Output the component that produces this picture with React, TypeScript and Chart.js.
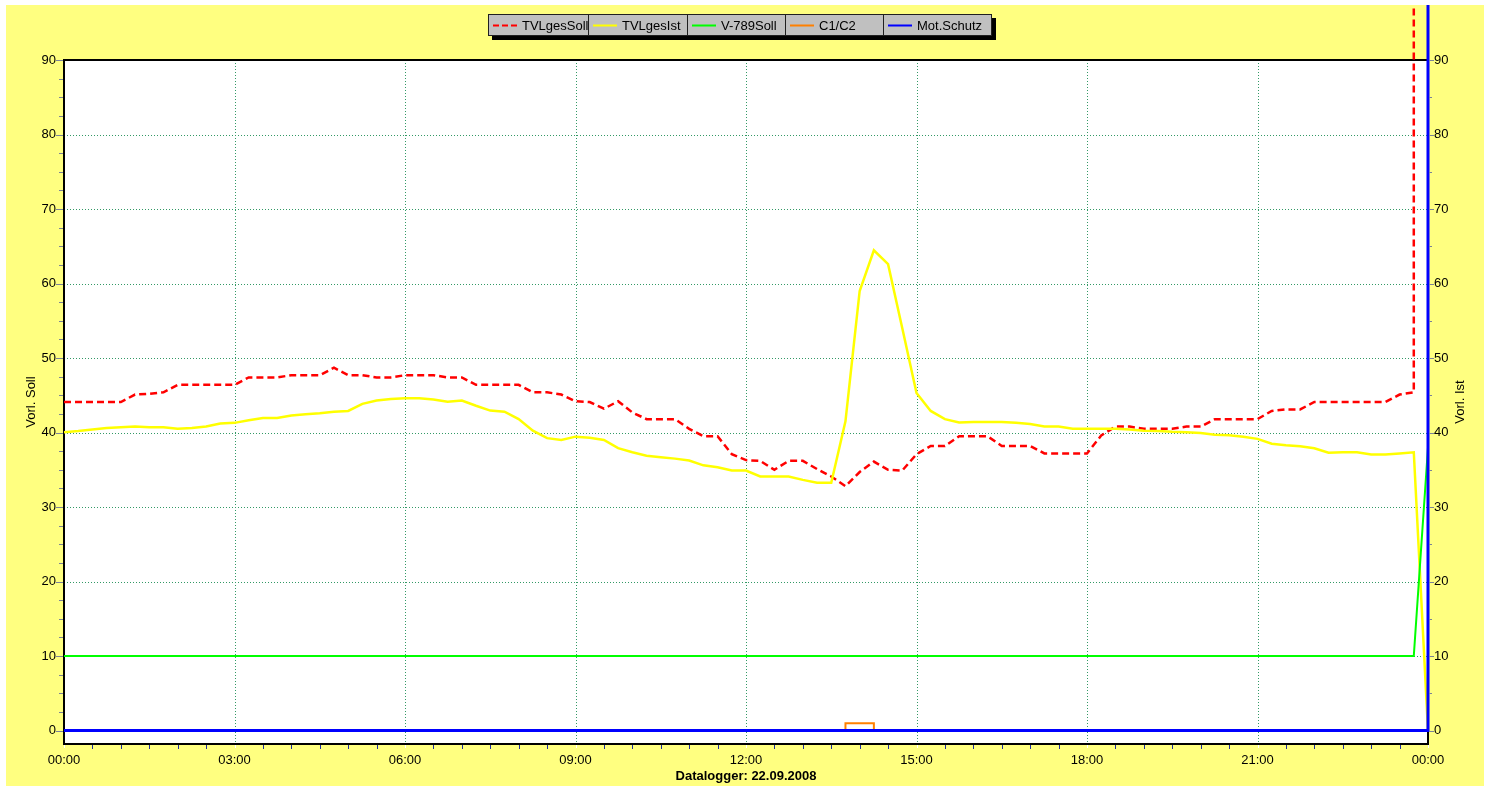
import React, { useEffect, useRef } from 'react';
import { Chart, registerables } from 'chart.js';

Chart.register(...registerables);

// ---- data ----
const times = [
  "00:00","00:15","00:30","00:45","01:00","01:15","01:30","01:45",
  "02:00","02:15","02:30","02:45","03:00","03:15","03:30","03:45",
  "04:00","04:15","04:30","04:45","05:00","05:15","05:30","05:45",
  "06:00","06:15","06:30","06:45","07:00","07:15","07:30","07:45",
  "08:00","08:15","08:30","08:45","09:00","09:15","09:30","09:45",
  "10:00","10:15","10:30","10:45","11:00","11:15","11:30","11:45",
  "12:00","12:15","12:30","12:45","13:00","13:15","13:30","13:45",
  "14:00","14:15","14:30","14:45","15:00","15:15","15:30","15:45",
  "16:00","16:15","16:30","16:45","17:00","17:15","17:30","17:45",
  "18:00","18:15","18:30","18:45","19:00","19:15","19:30","19:45",
  "20:00","20:15","20:30","20:45","21:00","21:15","21:30","21:45",
  "22:00","22:15","22:30","22:45","23:00","23:15","23:30","23:45",
  "24:00"
];

// TVLgesSoll: 00:00 .. 23:45 (then the logger writes an overflow value)
const tvlGesSoll = [
  44.1, 44.1, 44.1, 44.1, 44.1, 45.1, 45.2, 45.4,
  46.4, 46.4, 46.4, 46.4, 46.4, 47.4, 47.4, 47.4,
  47.7, 47.7, 47.7, 48.7, 47.7, 47.7, 47.4, 47.4,
  47.7, 47.7, 47.7, 47.4, 47.4, 46.4, 46.4, 46.4,
  46.4, 45.4, 45.4, 45.1, 44.2, 44.1, 43.2, 44.2,
  42.7, 41.8, 41.8, 41.8, 40.5, 39.5, 39.5, 37.1,
  36.3, 36.2, 35.0, 36.2, 36.2, 35.1, 34.1, 32.8,
  34.7, 36.1, 35.0, 34.9, 37.1, 38.2, 38.2, 39.5,
  39.5, 39.5, 38.2, 38.2, 38.2, 37.2, 37.2, 37.2,
  37.2, 39.6, 40.8, 40.8, 40.5, 40.5, 40.5, 40.8,
  40.8, 41.8, 41.8, 41.8, 41.8, 42.9, 43.1, 43.1,
  44.1, 44.1, 44.1, 44.1, 44.1, 44.1, 45.1, 45.4
];

const tvlGesIst = [
  40.05, 40.2, 40.4, 40.6, 40.7, 40.8, 40.7, 40.7,
  40.5, 40.6, 40.8, 41.2, 41.3, 41.65, 41.95, 41.95,
  42.3, 42.45, 42.6, 42.8, 42.9, 43.85, 44.3, 44.5,
  44.6, 44.6, 44.45, 44.15, 44.3, 43.6, 42.95, 42.8,
  41.8, 40.25, 39.25, 39.0, 39.45, 39.3, 39.0, 37.9,
  37.35, 36.9, 36.7, 36.5, 36.25, 35.6, 35.35, 34.9,
  34.9, 34.1, 34.1, 34.1, 33.65, 33.25, 33.25, 41.5,
  59.0, 64.45, 62.6, 54.0, 45.3, 42.9, 41.8, 41.35,
  41.4, 41.4, 41.4, 41.3, 41.15, 40.8, 40.8, 40.5,
  40.5, 40.5, 40.5, 40.4, 40.25, 40.2, 40.1, 40.05,
  39.95, 39.7, 39.65, 39.45, 39.15, 38.5, 38.3, 38.15,
  37.9, 37.3, 37.35, 37.35, 37.05, 37.05, 37.2, 37.35,
  0
];

const v789Soll = [
  10, 10, 10, 10, 10, 10, 10, 10, 10, 10, 10, 10, 10, 10, 10, 10,
  10, 10, 10, 10, 10, 10, 10, 10, 10, 10, 10, 10, 10, 10, 10, 10,
  10, 10, 10, 10, 10, 10, 10, 10, 10, 10, 10, 10, 10, 10, 10, 10,
  10, 10, 10, 10, 10, 10, 10, 10, 10, 10, 10, 10, 10, 10, 10, 10,
  10, 10, 10, 10, 10, 10, 10, 10, 10, 10, 10, 10, 10, 10, 10, 10,
  10, 10, 10, 10, 10, 10, 10, 10, 10, 10, 10, 10, 10, 10, 10, 10,
  38
];

const c1c2 = [
  0, 0, 0, 0, 0, 0, 0, 0, 0, 0, 0, 0, 0, 0, 0, 0,
  0, 0, 0, 0, 0, 0, 0, 0, 0, 0, 0, 0, 0, 0, 0, 0,
  0, 0, 0, 0, 0, 0, 0, 0, 0, 0, 0, 0, 0, 0, 0, 0,
  0, 0, 0, 0, 0, 0, 0, 1, 1, 0, 0, 0, 0, 0, 0, 0,
  0, 0, 0, 0, 0, 0, 0, 0, 0, 0, 0, 0, 0, 0, 0, 0,
  0, 0, 0, 0, 0, 0, 0, 0, 0, 0, 0, 0, 0, 0, 0, 0,
  0
];

const motSchutz = [
  0, 0, 0, 0, 0, 0, 0, 0, 0, 0, 0, 0, 0, 0, 0, 0,
  0, 0, 0, 0, 0, 0, 0, 0, 0, 0, 0, 0, 0, 0, 0, 0,
  0, 0, 0, 0, 0, 0, 0, 0, 0, 0, 0, 0, 0, 0, 0, 0,
  0, 0, 0, 0, 0, 0, 0, 0, 0, 0, 0, 0, 0, 0, 0, 0,
  0, 0, 0, 0, 0, 0, 0, 0, 0, 0, 0, 0, 0, 0, 0, 0,
  0, 0, 0, 0, 0, 0, 0, 0, 0, 0, 0, 0, 0, 0, 0, 0,
  0
];

// value written by the logger at the end of the record (off the scale)
const overflowValue = 999;

const seriesLabels = ["TVLgesSoll", "TVLgesIst", "V-789Soll", "C1/C2", "Mot.Schutz"];
const yTicks = [0, 10, 20, 30, 40, 50, 60, 70, 80, 90];
const xTickHours = [0, 3, 6, 9, 12, 15, 18, 21, 24];
const xTickLabels = ["00:00", "03:00", "06:00", "09:00", "12:00", "15:00", "18:00", "21:00", "00:00"];
const leftTitle = "Vorl. Soll";
const rightTitle = "Vorl. Ist";
const bottomTitle = "Datalogger: 22.09.2008";

// ---- helpers ----
const toHours = (t: string) => {
  const [h, m] = t.split(':').map(Number);
  return h + m / 60;
};

const FONT = '"Liberation Sans", Arial, sans-serif';
const Y_MIN = -1.8;
const Y_MAX = 90;
const CANVAS_W = 1478;
const CANVAS_H = 781;

const colors = ['#FF0000', '#FFFF00', '#00FF00', '#FF8000', '#0000FF'];
const dashes: number[][] = [[7, 4], [], [], [], []];

const framePlugin = {
  id: 'frame',
  beforeDraw(chart: any) {
    const { ctx, chartArea: a, width, height } = chart;
    ctx.save();
    ctx.fillStyle = '#FFFF80';
    ctx.fillRect(0, 0, width, height);
    ctx.fillStyle = '#FFFFFF';
    ctx.fillRect(a.left, a.top, a.right - a.left, a.bottom - a.top);
    ctx.restore();
  },
  beforeDatasetsDraw(chart: any) {
    const { ctx, chartArea: a } = chart;
    const xs = chart.scales.x;
    const ys = chart.scales.y;
    ctx.save();
    ctx.strokeStyle = '#339966';
    ctx.lineWidth = 1;
    ctx.setLineDash([1, 2]);
    yTicks.forEach((v) => {
      if (v <= Y_MIN || v >= Y_MAX || v === 0) return;
      const py = Math.round(ys.getPixelForValue(v)) + 0.5;
      ctx.beginPath();
      ctx.moveTo(a.left, py);
      ctx.lineTo(a.right, py);
      ctx.stroke();
    });
    xTickHours.forEach((h) => {
      if (h <= 0 || h >= 24) return;
      const px = Math.round(xs.getPixelForValue(h)) + 0.5;
      ctx.beginPath();
      ctx.moveTo(px, a.top);
      ctx.lineTo(px, a.bottom);
      ctx.stroke();
    });
    ctx.setLineDash([]);
    ctx.strokeStyle = '#000000';
    ctx.lineWidth = 2;
    ctx.strokeRect(a.left, a.top, a.right - a.left, a.bottom - a.top);
    ctx.restore();
  },
  afterDraw(chart: any) {
    const { ctx, chartArea: a } = chart;
    const xs = chart.scales.x;
    const ys = chart.scales.y;
    ctx.save();
    ctx.lineWidth = 1;
    // left ticks
    ctx.strokeStyle = '#7a8296';
    for (let v = 0; v <= 90; v += 2.5) {
      const py = Math.round(ys.getPixelForValue(v)) + 0.5;
      const len = v % 10 === 0 ? 7 : 4;
      ctx.beginPath();
      ctx.moveTo(a.left - 1 - len, py);
      ctx.lineTo(a.left - 1, py);
      ctx.stroke();
    }
    // right ticks
    for (let v = 0; v <= 90; v += 5) {
      const py = Math.round(ys.getPixelForValue(v)) + 0.5;
      const len = v % 10 === 0 ? 5 : 3;
      ctx.beginPath();
      ctx.moveTo(a.right + 1, py);
      ctx.lineTo(a.right + 1 + len, py);
      ctx.stroke();
    }
    // bottom ticks
    for (let h = 0; h <= 24; h += 0.5) {
      const px = Math.round(xs.getPixelForValue(h)) + 0.5;
      const major = h % 3 === 0;
      ctx.strokeStyle = major ? '#FFFFFF' : '#1f2f9f';
      ctx.beginPath();
      ctx.moveTo(px, a.bottom + 1);
      ctx.lineTo(px, a.bottom + (major ? 4 : 5));
      ctx.stroke();
    }
    // titles
    const cy = (a.top + a.bottom) / 2;
    ctx.fillStyle = '#000000';
    ctx.font = '13px ' + FONT;
    ctx.textAlign = 'center';
    ctx.textBaseline = 'middle';
    ctx.save();
    ctx.translate(25, cy);
    ctx.rotate(-Math.PI / 2);
    ctx.fillText(leftTitle, 0, 0);
    ctx.restore();
    ctx.save();
    ctx.translate(a.right + 32, cy);
    ctx.rotate(-Math.PI / 2);
    ctx.fillText(rightTitle, 0, 0);
    ctx.restore();
    ctx.font = 'bold 13px ' + FONT;
    ctx.fillText(bottomTitle, (a.left + a.right) / 2, a.bottom + 32);

    // legend
    const cells = [482, 582, 681, 779, 877, 986];
    const top = 9;
    const bottom = 31;
    const midY = 20;
    ctx.fillStyle = '#000000';
    ctx.fillRect(cells[0] + 4, top + 4, cells[5] - cells[0], bottom - top);
    ctx.fillStyle = '#C0C0C0';
    ctx.fillRect(cells[0], top, cells[5] - cells[0], bottom - top);
    ctx.strokeStyle = '#202020';
    ctx.lineWidth = 1;
    ctx.strokeRect(cells[0] + 0.5, top + 0.5, cells[5] - cells[0] - 1, bottom - top - 1);
    for (let i = 1; i < 5; i++) {
      ctx.beginPath();
      ctx.moveTo(cells[i] + 0.5, top);
      ctx.lineTo(cells[i] + 0.5, bottom);
      ctx.stroke();
    }
    ctx.font = '13px ' + FONT;
    ctx.textAlign = 'left';
    ctx.textBaseline = 'middle';
    seriesLabels.forEach((label, i) => {
      const x0 = cells[i];
      ctx.save();
      ctx.strokeStyle = colors[i];
      ctx.lineWidth = 2;
      ctx.setLineDash(i === 0 ? [6, 3] : []);
      ctx.beginPath();
      ctx.moveTo(x0 + 5, midY + 0.5);
      ctx.lineTo(x0 + 29, midY + 0.5);
      ctx.stroke();
      ctx.restore();
      ctx.fillStyle = '#000000';
      ctx.fillText(label, x0 + 34, midY + 1);
    });
    ctx.restore();
  },
};

export default function App() {
  const canvasRef = useRef<HTMLCanvasElement | null>(null);

  useEffect(() => {
    if (!canvasRef.current) return;
    const pts = (vals: number[]) => vals.map((v, i) => ({ x: toHours(times[i]), y: v }));

    const soll = pts(tvlGesSoll);
    soll.push({ x: toHours(times[tvlGesSoll.length - 1]), y: overflowValue });
    const schutz = pts(motSchutz);
    schutz.push({ x: toHours(times[times.length - 1]), y: overflowValue });

    const seriesData = [soll, pts(tvlGesIst), pts(v789Soll), pts(c1c2), schutz];
    const widths = [2.5, 2.5, 2, 2, 3];
    const orders = [4, 3, 2, 1, 0];

    const datasets = seriesLabels.map((label, i) => ({
      label,
      data: seriesData[i],
      borderColor: colors[i],
      backgroundColor: colors[i],
      borderWidth: widths[i],
      borderDash: dashes[i],
      pointRadius: 0,
      tension: 0,
      fill: false,
      clip: false as any,
      order: orders[i],
      stepped: i === 3 ? 'before' : false,
      yAxisID: 'y',
    }));

    const tickFont = { family: FONT, size: 13 };

    const chart = new Chart(canvasRef.current, {
      type: 'line',
      data: { datasets: datasets as any },
      options: {
        animation: false,
        responsive: false,
        maintainAspectRatio: false,
        layout: { padding: { top: 55, left: 0, right: 0, bottom: 0 } },
        plugins: { legend: { display: false }, tooltip: { enabled: false } },
        scales: {
          x: {
            type: 'linear',
            position: 'bottom',
            min: 0,
            max: 24,
            afterFit: (s: any) => { s.height = CANVAS_H - 739; },
            afterBuildTicks: (s: any) => { s.ticks = xTickHours.map((v) => ({ value: v })); },
            ticks: {
              autoSkip: false,
              maxRotation: 0,
              padding: 9,
              color: '#000000',
              font: tickFont,
              callback: (v: any) => xTickLabels[xTickHours.indexOf(Number(v))],
            },
            grid: { display: false, drawTicks: false },
            border: { display: false },
          },
          y: {
            type: 'linear',
            position: 'left',
            min: Y_MIN,
            max: Y_MAX,
            afterFit: (s: any) => { s.width = 58; },
            afterBuildTicks: (s: any) => { s.ticks = yTicks.map((v) => ({ value: v })); },
            ticks: { padding: 8, color: '#000000', font: tickFont, callback: (v: any) => String(v) },
            grid: { display: false, drawTicks: false },
            border: { display: false },
          },
          y2: {
            type: 'linear',
            position: 'right',
            min: Y_MIN,
            max: Y_MAX,
            afterFit: (s: any) => { s.width = CANVAS_W - 1422; },
            afterBuildTicks: (s: any) => { s.ticks = yTicks.map((v) => ({ value: v })); },
            ticks: { padding: 6, color: '#000000', font: tickFont, callback: (v: any) => String(v) },
            grid: { display: false, drawTicks: false },
            border: { display: false },
          },
        },
      } as any,
      plugins: [framePlugin],
    });

    return () => chart.destroy();
  }, []);

  return (
    <div style={{ position: 'absolute', left: 6, top: 5 }}>
      <canvas ref={canvasRef} width={CANVAS_W} height={CANVAS_H} style={{ display: 'block' }} />
    </div>
  );
}
